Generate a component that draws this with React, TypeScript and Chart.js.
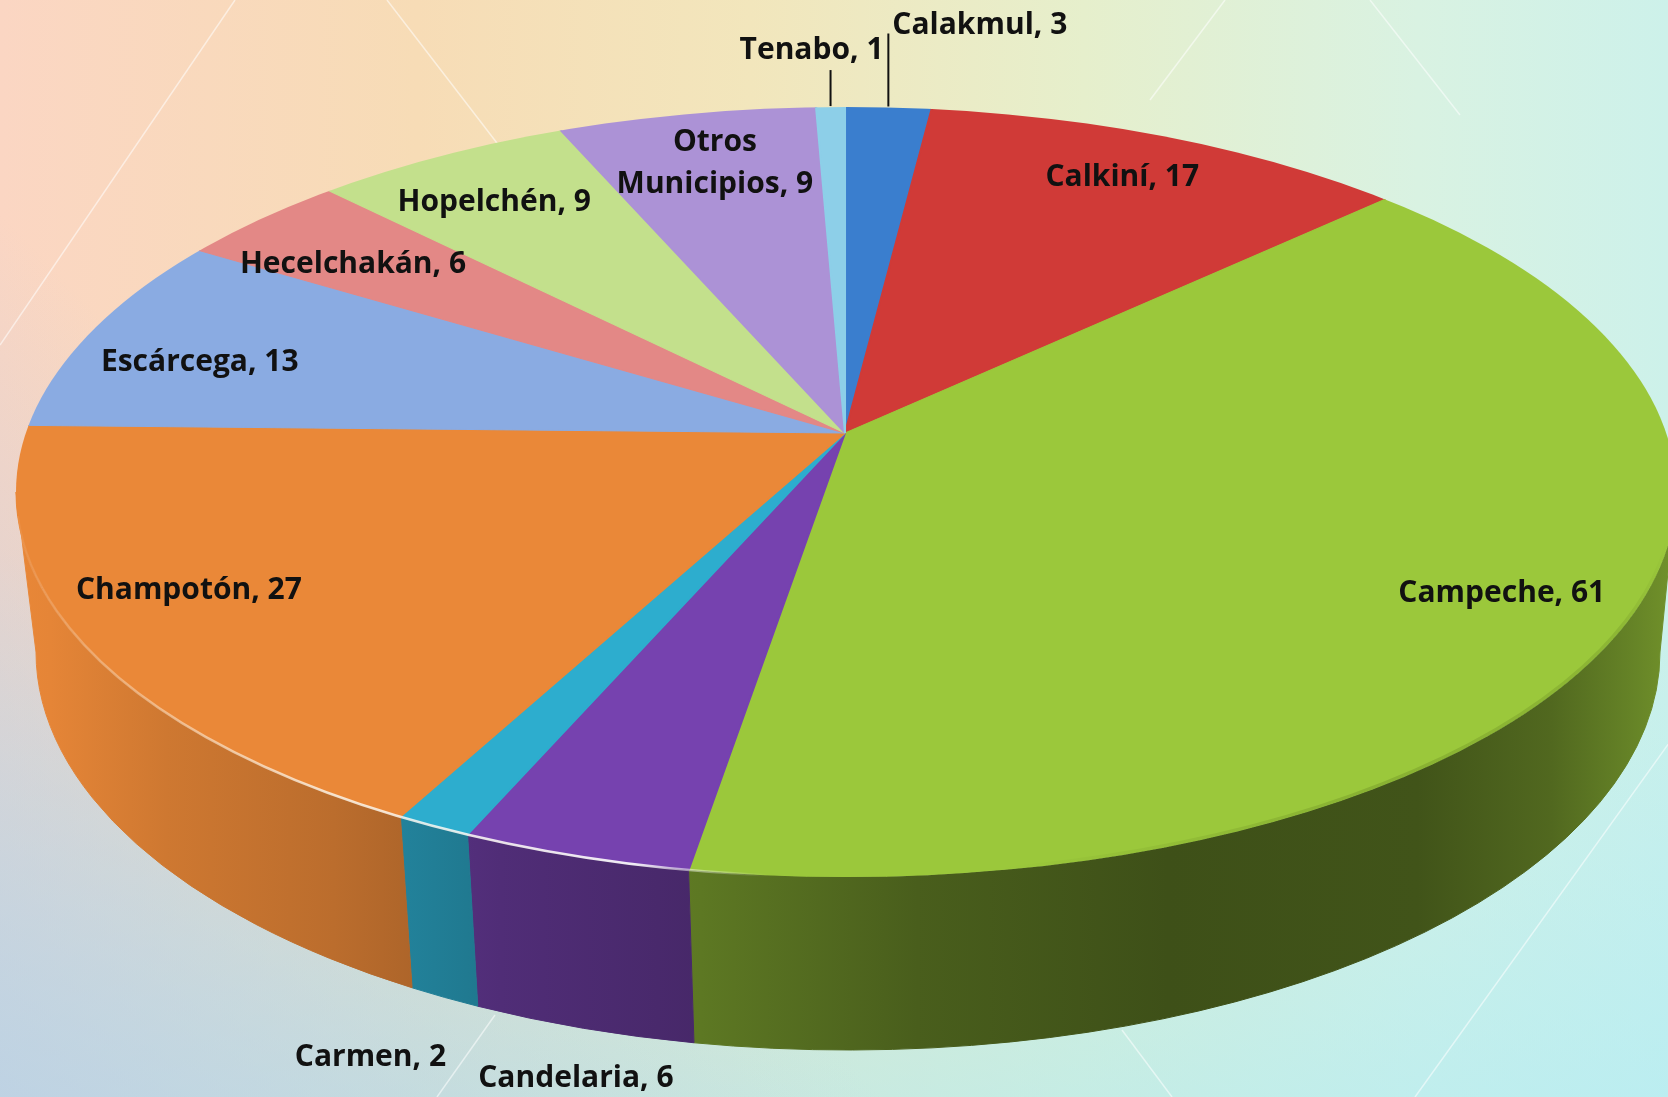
import React, { useEffect, useRef } from 'react';
import { Chart, registerables } from 'chart.js';

Chart.register(...registerables);

// ---------- data ----------
const CATEGORIES = ['Calakmul', 'Calkiní', 'Campeche', 'Candelaria', 'Carmen', 'Champotón', 'Escárcega', 'Hecelchakán', 'Hopelchén', 'Otros Municipios', 'Tenabo'];
const VALUES = [3, 17, 61, 6, 2, 27, 13, 6, 9, 9, 1];
const COLORS = ['#3A7ECE', '#D03A37', '#9BC83B', '#7642AF', '#2DADCE', '#EA8838', '#8AABE2', '#E38886', '#C3E08C', '#AC92D6', '#8DCFE8'];

// ---------- layout (3D projection of the pie) ----------
const W = 1668;
const H = 1097;
const APEX = { x: 845, y: 433 };
const TOP = { cx: 846, cy: 492, rx: 830, ry: 385 };
const BOTTOM = { cx: 848, cy: 652, rx: 812, ry: 398 };
const SX = 1150;
const SY = 529;
const FONT = 'bold 30px "Open Sans", "DejaVu Sans", sans-serif';

type Layout = { mode: 'inside' | 'top' | 'bottom'; f?: number; dx: number; dy: number; align?: CanvasTextAlign; line?: number; wrap?: boolean };
const LABEL_LAYOUT: Record<string, Layout> = {
  'Calakmul': { mode: 'top', dx: 4, dy: -82, align: 'left', line: 74 },
  'Calkiní': { mode: 'inside', f: 0.858, dx: -2, dy: -2 },
  'Campeche': { mode: 'inside', f: 0.839, dx: 2, dy: 0 },
  'Candelaria': { mode: 'bottom', dx: -7, dy: 50 },
  'Carmen': { mode: 'bottom', dx: -74, dy: 60 },
  'Champotón': { mode: 'inside', f: 0.806, dx: -39, dy: -9 },
  'Escárcega': { mode: 'inside', f: 0.777, dx: -60, dy: 9 },
  'Hecelchakán': { mode: 'inside', f: 0.817, dx: -15, dy: 6 },
  'Hopelchén': { mode: 'inside', f: 0.85, dx: -7, dy: 5 },
  'Otros Municipios': { mode: 'inside', f: 0.835, dx: 2, dy: -3, wrap: true },
  'Tenabo': { mode: 'top', dx: -19, dy: -57, align: 'center', line: 37 },
};

const SIDE_STOPS: [number, number][] = [
  [0, 1.0], [0.03, 0.98], [0.1, 0.88], [0.2, 0.8], [0.3, 0.68], [0.42, 0.6],
  [0.55, 0.47], [0.7, 0.4], [0.85, 0.42], [0.93, 0.52], [0.98, 0.66], [1, 0.72],
];

const BG_LINES: [number, number, number, number][] = [
  [0, 345, 235, 0],
  [387, 0, 560, 225],
  [495, 1015, 437, 1097],
  [1122, 1030, 1172, 1097],
  [1700, 700, 1415, 1097],
  [1150, 100, 1225, 0],
  [1370, 0, 1460, 115],
];

// ---------- helpers ----------
function hexRgb(hex: string): [number, number, number] {
  const n = parseInt(hex.slice(1), 16);
  return [(n >> 16) & 255, (n >> 8) & 255, n & 255];
}
function shade(hex: string, f: number): string {
  const [r, g, b] = hexRgb(hex);
  const c = (v: number) => Math.max(0, Math.min(255, Math.round(v * f)));
  return `rgb(${c(r)},${c(g)},${c(b)})`;
}
function rimHit(dx: number, dy: number) {
  const px = (APEX.x - TOP.cx) / TOP.rx;
  const py = (APEX.y - TOP.cy) / TOP.ry;
  const ex = dx / TOP.rx;
  const ey = dy / TOP.ry;
  const a = ex * ex + ey * ey;
  const b = 2 * (px * ex + py * ey);
  const c = px * px + py * py - 1;
  const t = (-b + Math.sqrt(b * b - 4 * a * c)) / (2 * a);
  const x = APEX.x + t * dx;
  const y = APEX.y + t * dy;
  return { x, y, t, phi: Math.atan2((y - TOP.cy) / TOP.ry, (x - TOP.cx) / TOP.rx) };
}
function dirOf(angle: number) {
  return { dx: Math.cos(angle) * SX, dy: Math.sin(angle) * SY };
}

const pie3d = {
  id: 'pie3d',
  beforeDraw(chart: any) {
    const ctx: CanvasRenderingContext2D = chart.ctx;
    ctx.save();
    ctx.strokeStyle = 'rgba(255,255,255,0.55)';
    ctx.lineWidth = 1.5;
    BG_LINES.forEach(([x1, y1, x2, y2]) => {
      ctx.beginPath();
      ctx.moveTo(x1, y1);
      ctx.lineTo(x2, y2);
      ctx.stroke();
    });
    ctx.restore();
  },
  beforeDatasetsDraw(chart: any) {
    const ctx: CanvasRenderingContext2D = chart.ctx;
    const meta = chart.getDatasetMeta(0);
    const arcs = meta.data;
    // side walls
    arcs.forEach((arc: any, i: number) => {
      const s = dirOf(arc.startAngle);
      const e = dirOf(arc.endAngle);
      let p1 = rimHit(s.dx, s.dy).phi;
      let p2 = rimHit(e.dx, e.dy).phi;
      while (p2 < p1) p2 += Math.PI * 2;
      const grad = ctx.createLinearGradient(0, 0, W, 0);
      SIDE_STOPS.forEach(([o, f]) => grad.addColorStop(o, shade(COLORS[i], f)));
      [-Math.PI * 2, 0, Math.PI * 2].forEach((k) => {
        const lo = Math.max(p1, k);
        const hi = Math.min(p2, k + Math.PI);
        if (hi <= lo) return;
        ctx.save();
        ctx.beginPath();
        ctx.ellipse(TOP.cx, TOP.cy, TOP.rx, TOP.ry, 0, lo, hi, false);
        ctx.lineTo(BOTTOM.cx + BOTTOM.rx * Math.cos(hi), BOTTOM.cy + BOTTOM.ry * Math.sin(hi));
        ctx.ellipse(BOTTOM.cx, BOTTOM.cy, BOTTOM.rx, BOTTOM.ry, 0, hi, lo, true);
        ctx.closePath();
        ctx.fillStyle = grad;
        ctx.fill();
        ctx.strokeStyle = grad;
        ctx.lineWidth = 1;
        ctx.stroke();
        ctx.restore();
      });
    });
    // top face: clip to the rim and project the pie
    const a0 = arcs[0];
    const R = a0.outerRadius;
    ctx.save();
    ctx.beginPath();
    ctx.ellipse(TOP.cx, TOP.cy, TOP.rx, TOP.ry, 0, 0, Math.PI * 2);
    ctx.clip();
    ctx.translate(APEX.x, APEX.y);
    ctx.scale(SX / R, SY / R);
    ctx.translate(-a0.x, -a0.y);
  },
  afterDatasetsDraw(chart: any) {
    const ctx: CanvasRenderingContext2D = chart.ctx;
    ctx.restore();
    // soft shading at the right rim
    ctx.save();
    ctx.beginPath();
    ctx.ellipse(TOP.cx, TOP.cy, TOP.rx, TOP.ry, 0, 0, Math.PI * 2);
    ctx.clip();
    const sg = ctx.createLinearGradient(0, 0, W, 0);
    sg.addColorStop(0, 'rgba(40,60,0,0)');
    sg.addColorStop(0.6, 'rgba(40,60,0,0)');
    sg.addColorStop(0.82, 'rgba(40,60,0,0.16)');
    sg.addColorStop(0.97, 'rgba(40,60,0,0.12)');
    sg.addColorStop(1, 'rgba(40,60,0,0)');
    ctx.beginPath();
    ctx.ellipse(TOP.cx, TOP.cy, TOP.rx, TOP.ry, 0, 0.02 * Math.PI, 0.5 * Math.PI);
    ctx.strokeStyle = sg;
    ctx.lineWidth = 7;
    ctx.stroke();
    ctx.restore();
    // glossy highlight on the front rim
    ctx.save();
    const hg = ctx.createLinearGradient(0, 0, W, 0);
    hg.addColorStop(0, 'rgba(255,255,255,0)');
    hg.addColorStop(0.06, 'rgba(255,240,220,0.35)');
    hg.addColorStop(0.2, 'rgba(255,250,240,0.8)');
    hg.addColorStop(0.38, 'rgba(255,255,255,0.9)');
    hg.addColorStop(0.42, 'rgba(255,255,255,0.4)');
    hg.addColorStop(0.46, 'rgba(255,255,255,0)');
    hg.addColorStop(1, 'rgba(255,255,255,0)');
    ctx.beginPath();
    ctx.ellipse(TOP.cx, TOP.cy, TOP.rx, TOP.ry, 0, 0.4 * Math.PI, 0.98 * Math.PI);
    ctx.strokeStyle = hg;
    ctx.lineWidth = 2.5;
    ctx.stroke();
    ctx.restore();
  },
  afterDraw(chart: any) {
    const ctx: CanvasRenderingContext2D = chart.ctx;
    const meta = chart.getDatasetMeta(0);
    ctx.save();
    ctx.font = FONT;
    ctx.fillStyle = '#111111';
    ctx.textBaseline = 'middle';
    meta.data.forEach((arc: any, i: number) => {
      const name = CATEGORIES[i];
      const lay = LABEL_LAYOUT[name];
      const mid = (arc.startAngle + arc.endAngle) / 2;
      const d = dirOf(mid);
      const hit = rimHit(d.dx, d.dy);
      const text = `${name}, ${VALUES[i]}`;
      let x = 0;
      let y = 0;
      if (lay.mode === 'inside') {
        const f = lay.f ?? 0.8;
        x = APEX.x + (hit.x - APEX.x) * f + lay.dx;
        y = APEX.y + (hit.y - APEX.y) * f + lay.dy;
      } else if (lay.mode === 'top') {
        ctx.save();
        ctx.strokeStyle = '#111111';
        ctx.lineWidth = 2;
        ctx.beginPath();
        ctx.moveTo(hit.x, hit.y - 1);
        ctx.lineTo(hit.x, hit.y - (lay.line ?? 30));
        ctx.stroke();
        ctx.restore();
        x = hit.x + lay.dx;
        y = hit.y + lay.dy;
      } else {
        const bx = BOTTOM.cx + BOTTOM.rx * Math.cos(hit.phi);
        const by = BOTTOM.cy + BOTTOM.ry * Math.sin(hit.phi);
        x = bx + lay.dx;
        y = by + lay.dy;
      }
      ctx.textAlign = lay.align ?? 'center';
      if (lay.wrap) {
        const sp = name.indexOf(' ');
        const l1 = name.slice(0, sp);
        const l2 = `${name.slice(sp + 1)}, ${VALUES[i]}`;
        ctx.fillText(l1, x, y - 21);
        ctx.fillText(l2, x, y + 21);
      } else {
        ctx.fillText(text, x, y);
      }
    });
    ctx.restore();
  },
};

export default function App() {
  const ref = useRef<HTMLCanvasElement | null>(null);
  useEffect(() => {
    if (!ref.current) return;
    const chart = new Chart(ref.current, {
      type: 'pie',
      data: {
        labels: CATEGORIES,
        datasets: [{ data: VALUES, backgroundColor: COLORS, borderColor: COLORS, borderWidth: 1 }],
      },
      options: {
        responsive: false,
        animation: false,
        devicePixelRatio: 1,
        events: [],
        layout: { padding: 0 },
        plugins: { legend: { display: false }, tooltip: { enabled: false } },
      },
      plugins: [pie3d as any],
    });
    return () => chart.destroy();
  }, []);
  return (
    <div
      style={{
        position: 'fixed',
        left: 0,
        top: 0,
        width: W,
        height: H,
        overflow: 'hidden',
        background:
          'linear-gradient(45deg, rgba(185,205,228,0.75) 0%, rgba(185,205,228,0) 32%),' +
          'linear-gradient(180deg, rgba(175,235,245,0) 50%, rgba(175,235,245,0.6) 100%),' +
          'linear-gradient(90deg, #fbd6c3 0%, #f7dcb6 25%, #f2e6bc 45%, #e6efcc 65%, #d9f2e2 85%, #cdf1ea 100%)',
      }}
    >
      <canvas ref={ref} width={W} height={H} style={{ display: 'block' }} />
    </div>
  );
}
